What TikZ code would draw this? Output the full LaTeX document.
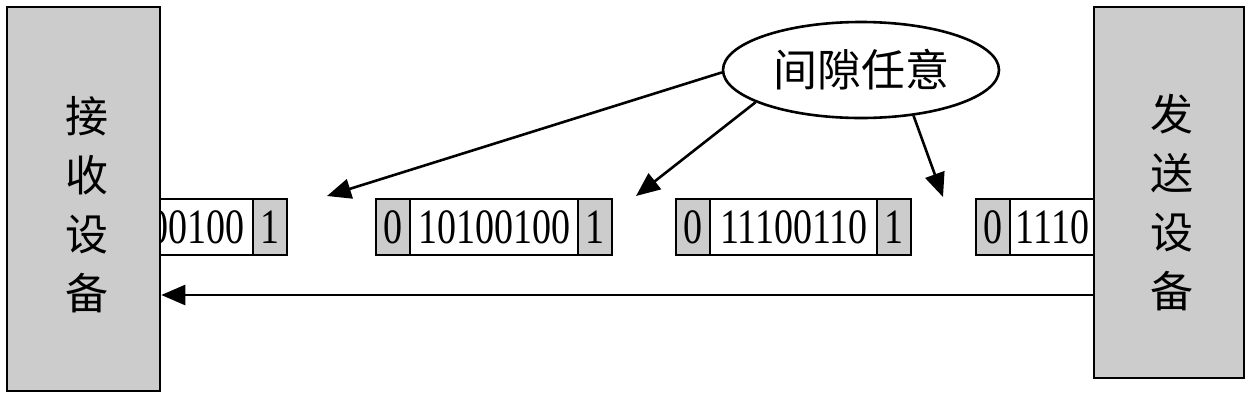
\documentclass[tikz,border=0pt]{standalone}
\usepackage{fontspec}
\setmainfont{Liberation Serif}
\newfontfamily\cjk{Noto Sans CJK SC}
\usetikzlibrary{arrows.meta,shapes.geometric}
\definecolor{boxgray}{RGB}{204,204,204}
\newcommand{\dg}[1]{\scalebox{1}[1.3]{#1}}
\tikzset{
  lw/.style={line width=2.6pt},
  bitcell/.style={lw, draw, fill=boxgray, minimum width=34pt, minimum height=56pt, inner sep=0pt,
     font=\fontsize{38}{38}\selectfont},
  datacell/.style={lw, draw, fill=white, minimum width=168pt, minimum height=56pt, inner sep=0pt,
     font=\fontsize{38}{38}\selectfont},
  digits/.style={inner sep=0pt, font=\fontsize{38}{38}\selectfont},
  device/.style={lw, draw, fill=boxgray, inner sep=0pt},
  devlabel/.style={align=center, font=\cjk\fontsize{43}{59}\selectfont, inner sep=0pt},
  arr/.style={lw, -{Triangle[length=24pt,width=20pt]}},
}
\begin{document}
\begin{tikzpicture}[x=1pt,y=-1pt]
\useasboundingbox (0,0) rectangle (1252,400);
% frames
\node[datacell] (d1) at (169,227) {};
\node[digits, anchor=east] (t1) at ([xshift=-10pt]d1.east) {\dg{00100}};
\node[bitcell]  (e1) at (270,227) {\dg{1}};
\node[bitcell]  (s2) at (393,227) {\dg{0}};
\node[datacell] (d2) at (494,227) {\dg{10100100}};
\node[bitcell]  (e2) at (595,227) {\dg{1}};
\node[bitcell]  (s3) at (693,227) {\dg{0}};
\node[datacell] (d3) at (794,227) {\dg{11100110}};
\node[bitcell]  (e3) at (894,227) {\dg{1}};
\node[bitcell]  (s4) at (993,227) {\dg{0}};
\node[datacell] (d4) at (1094,227) {};
\node[digits, anchor=west] (t4) at ([xshift=7pt]d4.west) {\dg{1110}};
% devices
\node[device, minimum width=153pt, minimum height=384pt] (recv) at (83.5,199) {};
\node[device, minimum width=150pt, minimum height=371pt] (send) at (1169,192.5) {};
\node[devlabel] (recvlab) at (87,205) {接\\收\\设\\备};
\node[devlabel] (sendlab) at (1172,203) {发\\送\\设\\备};
% gap label
\node[lw, draw, ellipse, minimum width=276pt, minimum height=96pt, inner sep=0pt,
      font=\cjk\fontsize{44}{44}\selectfont] (gap) at (861,70) {间隙任意};
\coordinate (g1) at (327,196);
\coordinate (g2) at (636,196);
\coordinate (g3) at (943,197);
\draw[arr] (gap.181) -- (g1);
\draw[arr] (gap.197) -- (g2);
\draw[arr] (gap.-41) -- (g3);
% transmission arrow
\draw[arr] (send.west |- 0,295) -- (recv.east |- 0,295);
\end{tikzpicture}
\end{document}
